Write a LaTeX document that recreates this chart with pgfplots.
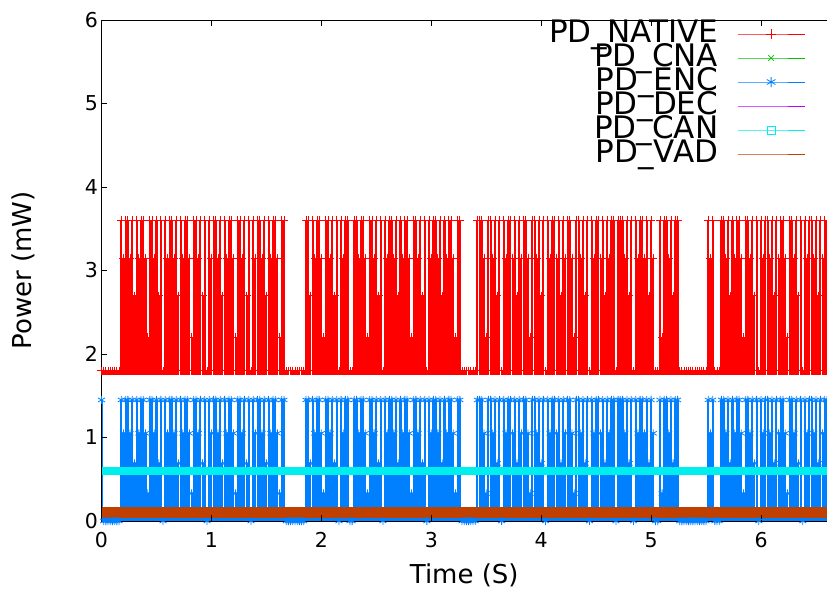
\documentclass[border=0pt]{standalone}
\usepackage{fontspec}
\setmainfont{DejaVu Sans}
\usepackage{pgfplots}
\usepackage{pgfplotstable}
\pgfplotsset{compat=1.18}
\definecolor{cnagreen}{HTML}{00C000}
\definecolor{encblue}{HTML}{0080FF}
\definecolor{decpurple}{HTML}{C000FF}
\definecolor{cancyan}{HTML}{00EEEE}
\definecolor{vadbrown}{HTML}{C04000}

\pgfplotstableread{
t n e
0.00 1.8 1.45
0.02 1.8 0
0.04 1.8 0
0.06 1.8 0
0.08 1.8 0
0.10 1.8 0
0.12 1.8 0
0.14 1.8 0
0.16 1.8 0
0.18 3.6 1.45
0.20 3.15 1.05
0.22 3.6 1.45
0.24 3.6 1.45
0.26 3.15 1.05
0.28 3.6 1.45
0.30 2.7 0.69
0.32 3.6 1.45
0.34 3.15 1.05
0.36 3.6 1.45
0.38 3.6 1.45
0.40 3.15 1.05
0.42 2.2 0.33
0.44 3.6 1.45
0.46 3.6 1.45
0.48 3.15 1.05
0.50 3.6 1.45
0.52 2.7 0.69
0.54 3.6 1.45
0.56 1.8 0
0.58 3.6 1.45
0.60 3.15 1.05
0.62 3.6 1.45
0.64 3.6 1.45
0.66 3.15 1.05
0.68 3.6 1.45
0.70 2.7 0.69
0.72 3.6 1.45
0.74 3.15 1.05
0.76 3.6 1.45
0.78 3.6 1.45
0.80 3.15 1.05
0.82 2.2 0.33
0.84 3.6 1.45
0.86 3.6 1.45
0.88 3.15 1.05
0.90 3.6 1.45
0.92 2.7 0.69
0.94 3.6 1.45
0.96 1.8 0
0.98 3.6 1.45
1.00 3.15 1.05
1.02 3.6 1.45
1.04 3.6 1.45
1.06 3.15 1.05
1.08 3.6 1.45
1.10 2.7 0.69
1.12 3.6 1.45
1.14 3.15 1.05
1.16 3.6 1.45
1.18 3.6 1.45
1.20 3.15 1.05
1.22 2.2 0.33
1.24 3.6 1.45
1.26 3.6 1.45
1.28 3.15 1.05
1.30 3.6 1.45
1.32 2.7 0.69
1.34 3.6 1.45
1.36 1.8 0
1.38 3.6 1.45
1.40 3.15 1.05
1.42 3.6 1.45
1.44 3.6 1.45
1.46 3.15 1.05
1.48 3.6 1.45
1.50 2.7 0.69
1.52 3.6 1.45
1.54 3.15 1.05
1.56 3.6 1.45
1.58 3.6 1.45
1.60 3.15 1.05
1.62 2.2 0.33
1.64 3.6 1.45
1.66 3.6 1.45
1.68 1.8 0
1.70 1.8 0
1.72 1.8 0
1.74 1.8 0
1.76 1.8 0
1.78 1.8 0
1.80 1.8 0
1.82 1.8 0
1.84 1.8 0
1.86 3.6 1.45
1.88 3.6 1.45
1.90 2.7 0.69
1.92 3.6 1.45
1.94 3.15 1.05
1.96 3.6 1.45
1.98 3.6 1.45
2.00 3.15 1.05
2.02 2.2 0.33
2.04 3.6 1.45
2.06 3.6 1.45
2.08 3.15 1.05
2.10 3.6 1.45
2.12 2.7 0.69
2.14 3.6 1.45
2.16 1.8 0
2.18 3.6 1.45
2.20 3.15 1.05
2.22 3.6 1.45
2.24 3.6 1.45
2.26 1.8 0
2.28 1.8 0
2.30 3.6 1.45
2.32 3.6 1.45
2.34 3.15 1.05
2.36 3.6 1.45
2.38 3.6 1.45
2.40 3.15 1.05
2.42 2.2 0.33
2.44 3.6 1.45
2.46 3.6 1.45
2.48 3.15 1.05
2.50 3.6 1.45
2.52 2.7 0.69
2.54 3.6 1.45
2.56 1.8 0
2.58 3.6 1.45
2.60 3.15 1.05
2.62 3.6 1.45
2.64 3.6 1.45
2.66 3.15 1.05
2.68 3.6 1.45
2.70 2.7 0.69
2.72 3.6 1.45
2.74 3.15 1.05
2.76 3.6 1.45
2.78 3.6 1.45
2.80 3.15 1.05
2.82 2.2 0.33
2.84 3.6 1.45
2.86 3.6 1.45
2.88 3.15 1.05
2.90 3.6 1.45
2.92 2.7 0.69
2.94 3.6 1.45
2.96 1.8 0
2.98 3.6 1.45
3.00 3.15 1.05
3.02 3.6 1.45
3.04 3.6 1.45
3.06 3.15 1.05
3.08 3.6 1.45
3.10 2.7 0.69
3.12 3.6 1.45
3.14 3.15 1.05
3.16 3.6 1.45
3.18 3.6 1.45
3.20 3.15 1.05
3.22 2.2 0.33
3.24 3.6 1.45
3.26 3.6 1.45
3.28 1.8 0
3.30 1.8 0
3.32 1.8 0
3.34 1.8 0
3.36 1.8 0
3.38 1.8 0
3.40 1.8 0
3.42 3.6 1.45
3.44 3.6 1.45
3.46 3.6 1.45
3.48 3.15 1.05
3.50 2.2 0.33
3.52 3.6 1.45
3.54 3.6 1.45
3.56 3.15 1.05
3.58 3.6 1.45
3.60 2.7 0.69
3.62 3.6 1.45
3.64 1.8 0
3.66 3.6 1.45
3.68 3.15 1.05
3.70 3.6 1.45
3.72 3.6 1.45
3.74 3.15 1.05
3.76 3.6 1.45
3.78 2.7 0.69
3.80 3.6 1.45
3.82 3.15 1.05
3.84 3.6 1.45
3.86 3.6 1.45
3.88 3.15 1.05
3.90 2.2 0.33
3.92 3.6 1.45
3.94 3.6 1.45
3.96 3.15 1.05
3.98 3.6 1.45
4.00 2.7 0.69
4.02 3.6 1.45
4.04 1.8 0
4.06 3.6 1.45
4.08 3.15 1.05
4.10 3.6 1.45
4.12 3.6 1.45
4.14 3.15 1.05
4.16 3.6 1.45
4.18 2.7 0.69
4.20 3.6 1.45
4.22 3.15 1.05
4.24 3.6 1.45
4.26 3.6 1.45
4.28 3.15 1.05
4.30 2.2 0.33
4.32 3.6 1.45
4.34 3.6 1.45
4.36 3.15 1.05
4.38 3.6 1.45
4.40 2.7 0.69
4.42 3.6 1.45
4.44 1.8 0
4.46 3.6 1.45
4.48 3.15 1.05
4.50 3.6 1.45
4.52 3.6 1.45
4.54 3.15 1.05
4.56 3.6 1.45
4.58 2.7 0.69
4.60 3.6 1.45
4.62 3.15 1.05
4.64 3.6 1.45
4.66 3.6 1.45
4.68 1.8 0
4.70 3.6 1.45
4.72 3.6 1.45
4.74 3.6 1.45
4.76 3.15 1.05
4.78 3.6 1.45
4.80 2.7 0.69
4.82 3.6 1.45
4.84 1.8 0
4.86 3.6 1.45
4.88 3.15 1.05
4.90 3.6 1.45
4.92 3.6 1.45
4.94 3.15 1.05
4.96 3.6 1.45
4.98 2.7 0.69
5.00 3.6 1.45
5.02 3.15 1.05
5.04 1.8 0
5.06 1.8 0
5.08 3.6 1.45
5.10 2.2 0.33
5.12 3.6 1.45
5.14 3.6 1.45
5.16 3.15 1.05
5.18 3.6 1.45
5.20 2.7 0.69
5.22 3.6 1.45
5.24 3.6 1.45
5.26 1.8 0
5.28 1.8 0
5.30 1.8 0
5.32 1.8 0
5.34 1.8 0
5.36 1.8 0
5.38 1.8 0
5.40 1.8 0
5.42 1.8 0
5.44 1.8 0
5.46 1.8 0
5.48 1.8 0
5.50 1.8 0
5.52 3.6 1.45
5.54 3.15 1.05
5.56 3.6 1.45
5.58 1.8 0
5.60 1.8 0
5.62 1.8 0
5.64 3.6 1.45
5.66 3.6 1.45
5.68 3.15 1.05
5.70 3.6 1.45
5.72 2.7 0.69
5.74 3.6 1.45
5.76 3.15 1.05
5.78 3.6 1.45
5.80 3.6 1.45
5.82 3.15 1.05
5.84 2.2 0.33
5.86 3.6 1.45
5.88 3.6 1.45
5.90 3.15 1.05
5.92 3.6 1.45
5.94 2.7 0.69
5.96 3.6 1.45
5.98 1.8 0
6.00 3.6 1.45
6.02 3.15 1.05
6.04 3.6 1.45
6.06 3.6 1.45
6.08 3.15 1.05
6.10 3.6 1.45
6.12 2.7 0.69
6.14 3.6 1.45
6.16 3.15 1.05
6.18 3.6 1.45
6.20 3.6 1.45
6.22 3.15 1.05
6.24 2.2 0.33
6.26 3.6 1.45
6.28 3.6 1.45
6.30 3.15 1.05
6.32 3.6 1.45
6.34 2.7 0.69
6.36 3.6 1.45
6.38 1.8 0
6.40 3.6 1.45
6.42 3.15 1.05
6.44 3.6 1.45
6.46 3.6 1.45
6.48 3.15 1.05
6.50 3.6 1.45
6.52 2.7 0.69
6.54 3.6 1.45
6.56 3.15 1.05
6.58 3.6 1.45
6.60 3.6 1.45
}\data

\begin{document}
\begin{tikzpicture}
\path[use as bounding box] (-101.5pt,-68pt) rectangle (725.5pt,521pt);
\begin{axis}[
  at={(0pt,0pt)}, anchor=south west,
  scale only axis, width=725.5pt, height=501pt,
  xmin=0, xmax=6.6, ymin=0, ymax=6,
  xtick={0,1,2,3,4,5,6}, ytick={0,1,2,3,4,5,6},
  axis y line*=left,
  axis on top,
  axis line style={line width=0.9pt, black},
  major tick length=6pt,
  tick style={line width=0.9pt, black},
  /pgf/number format/assume math mode=true,
  ticklabel style={font=\fontsize{20.5}{22}\selectfont},
  xticklabel style={yshift=-8pt},
  xlabel={Time (S)}, ylabel={Power (mW)},
  label style={font=\fontsize{26}{28}\selectfont},
  x label style={at={(axis description cs:0.5,-0.109)}, anchor=center},
  y label style={at={(axis description cs:-0.1075,0.5)}, anchor=center},
  legend plot pos=right,
  legend cell align=right,
  legend image code/.code={\draw[mark repeat=2,mark phase=2,#1] plot coordinates {(0pt,2pt) (33.5pt,2pt) (67pt,2pt)};},
  legend style={at={(axis description cs:0.9697,0.992)}, anchor=north east, draw=none, fill=none, inner sep=0pt, outer sep=0pt, font=\fontsize{31}{31}\selectfont, nodes={inner sep=0pt, text height=18pt, text depth=6pt}, row sep=0pt, column sep=19pt},
]
% NATIVE: vertical combs, then hide the part below 1.75
\addplot[red, forget plot, ycomb, line width=2.1pt, mark=+, mark size=4pt, mark options={line width=0.8pt}]
  table[x=t, y=n] {\data};
\addplot[white, fill=white, draw=none, forget plot] coordinates {(-0.1,-0.2) (6.7,-0.2) (6.7,1.75) (-0.1,1.75)} -- cycle;
\addplot[red, forget plot, line width=1.3pt] coordinates {(0,1.8) (6.6,1.8)};
\addplot[decpurple, forget plot, line width=1pt] coordinates {(0,0) (6.6,0)};
\addplot[cnagreen, forget plot, line width=1pt] coordinates {(0,0) (6.6,0)};
% ENC
\addplot[encblue, forget plot, line width=7pt] coordinates {(0,0) (6.6,0)};
\addplot[encblue, forget plot, ycomb, line width=2.1pt, mark=asterisk, mark size=4pt, mark options={line width=0.8pt}]
  table[x=t, y=e] {\data};
% CAN
\addplot[cancyan, forget plot, line width=8pt] coordinates {(0,0.6) (6.6,0.6)};
% VAD
\addplot[vadbrown, fill=vadbrown, draw=none, forget plot] coordinates {(0,0.04) (6.6,0.04) (6.6,0.165) (0,0.165)} -- cycle;

\addlegendimage{red, line width=0.8pt, mark=+, mark size=5pt}
\addlegendentry{PD\_NATIVE}
\addlegendimage{cnagreen, line width=0.8pt, mark=x, mark size=4pt}
\addlegendentry{PD\_CNA}
\addlegendimage{encblue, line width=0.8pt, mark=asterisk, mark size=5pt}
\addlegendentry{PD\_ENC}
\addlegendimage{decpurple, line width=0.8pt}
\addlegendentry{PD\_DEC}
\addlegendimage{cancyan, line width=0.8pt, mark=square, mark size=4pt}
\addlegendentry{PD\_CAN}
\addlegendimage{vadbrown, line width=0.8pt}
\addlegendentry{PD\_VAD}
\end{axis}
\end{tikzpicture}
\end{document}
